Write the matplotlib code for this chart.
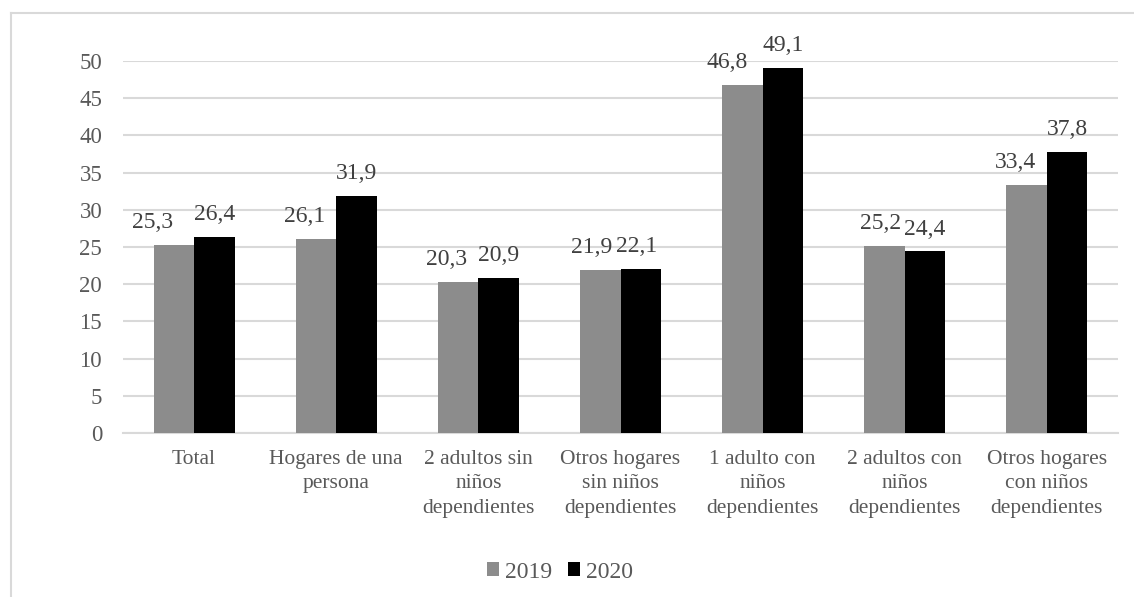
import matplotlib.pyplot as plt
import matplotlib.lines as mlines
import numpy as np

# Datos por tipo de hogar
categorias = ["Total", "Hogares de una\npersona", "2 adultos sin\nniños\ndependientes",
              "Otros hogares\nsin niños\ndependientes", "1 adulto con\nniños\ndependientes",
              "2 adultos con\nniños\ndependientes", "Otros hogares\ncon niños\ndependientes"]
valores_2019 = [25.3, 26.1, 20.3, 21.9, 46.8, 25.2, 33.4]
valores_2020 = [26.4, 31.9, 20.9, 22.1, 49.1, 24.4, 37.8]

# desplazamiento horizontal de las etiquetas (pt) para que no se solapen
desp_2019 = [-15, -8, -8, -6, -11, -3, -8]
desp_2020 = [0, 0, 0, -3, 0, 0, 0]

plt.rcParams['font.family'] = ['Liberation Serif', 'DejaVu Serif']
texto = '#595959'

fig = plt.figure(figsize=(11.34, 5.97), dpi=100)
ax = fig.add_axes([123/1134, 1-433/597, (1118-123)/1134, (433-61)/597])

x = np.arange(len(categorias))
ancho = 0.285
b1 = ax.bar(x - ancho/2, valores_2019, ancho, color='#8c8c8c', label='2019', zorder=3)
b2 = ax.bar(x + ancho/2, valores_2020, ancho, color='black', label='2020', zorder=3)

for barras, vals, desp in ((b1, valores_2019, desp_2019), (b2, valores_2020, desp_2020)):
    for b, v, d in zip(barras, vals, desp):
        ax.annotate(f"{v:.1f}".replace('.', ','), (b.get_x() + b.get_width()/2, v),
                    xytext=(d, 12), textcoords='offset points',
                    ha='center', va='baseline', fontsize=17, color='#404040',
                    annotation_clip=False)

ax.set_xlim(-0.5, len(categorias) - 0.5)
ax.set_ylim(0, 50)
ax.set_yticks(range(0, 51, 5))
ax.yaxis.grid(True, color='#d9d9d9', linewidth=1.5, zorder=0)
ax.set_axisbelow(True)
for s in ['top', 'right', 'left']:
    ax.spines[s].set_visible(False)
ax.spines['bottom'].set_color('#d9d9d9')
ax.spines['bottom'].set_linewidth(1.5)
ax.tick_params(axis='both', length=0, colors=texto)
ax.tick_params(axis='y', pad=15, labelsize=16.5)
ax.tick_params(axis='x', pad=12, labelsize=15.5)
ax.set_xticks(x)
ax.set_xticklabels(categorias, linespacing=1.4)

ax.legend(loc='center', bbox_to_anchor=(560/1134, 1-572/597), bbox_transform=fig.transFigure,
          ncol=2, frameon=False, fontsize=17, handlelength=0.5, handleheight=0.5,
          handletextpad=0.25, columnspacing=0.7, labelcolor=texto)

# marco exterior
fig.add_artist(mlines.Line2D([11/1134, 11/1134], [0, 1-13/597], color='#d9d9d9', lw=1.5))
fig.add_artist(mlines.Line2D([11/1134, 1], [1-13/597, 1-13/597], color='#d9d9d9', lw=1.5))

fig.savefig('out.png', dpi=100)
